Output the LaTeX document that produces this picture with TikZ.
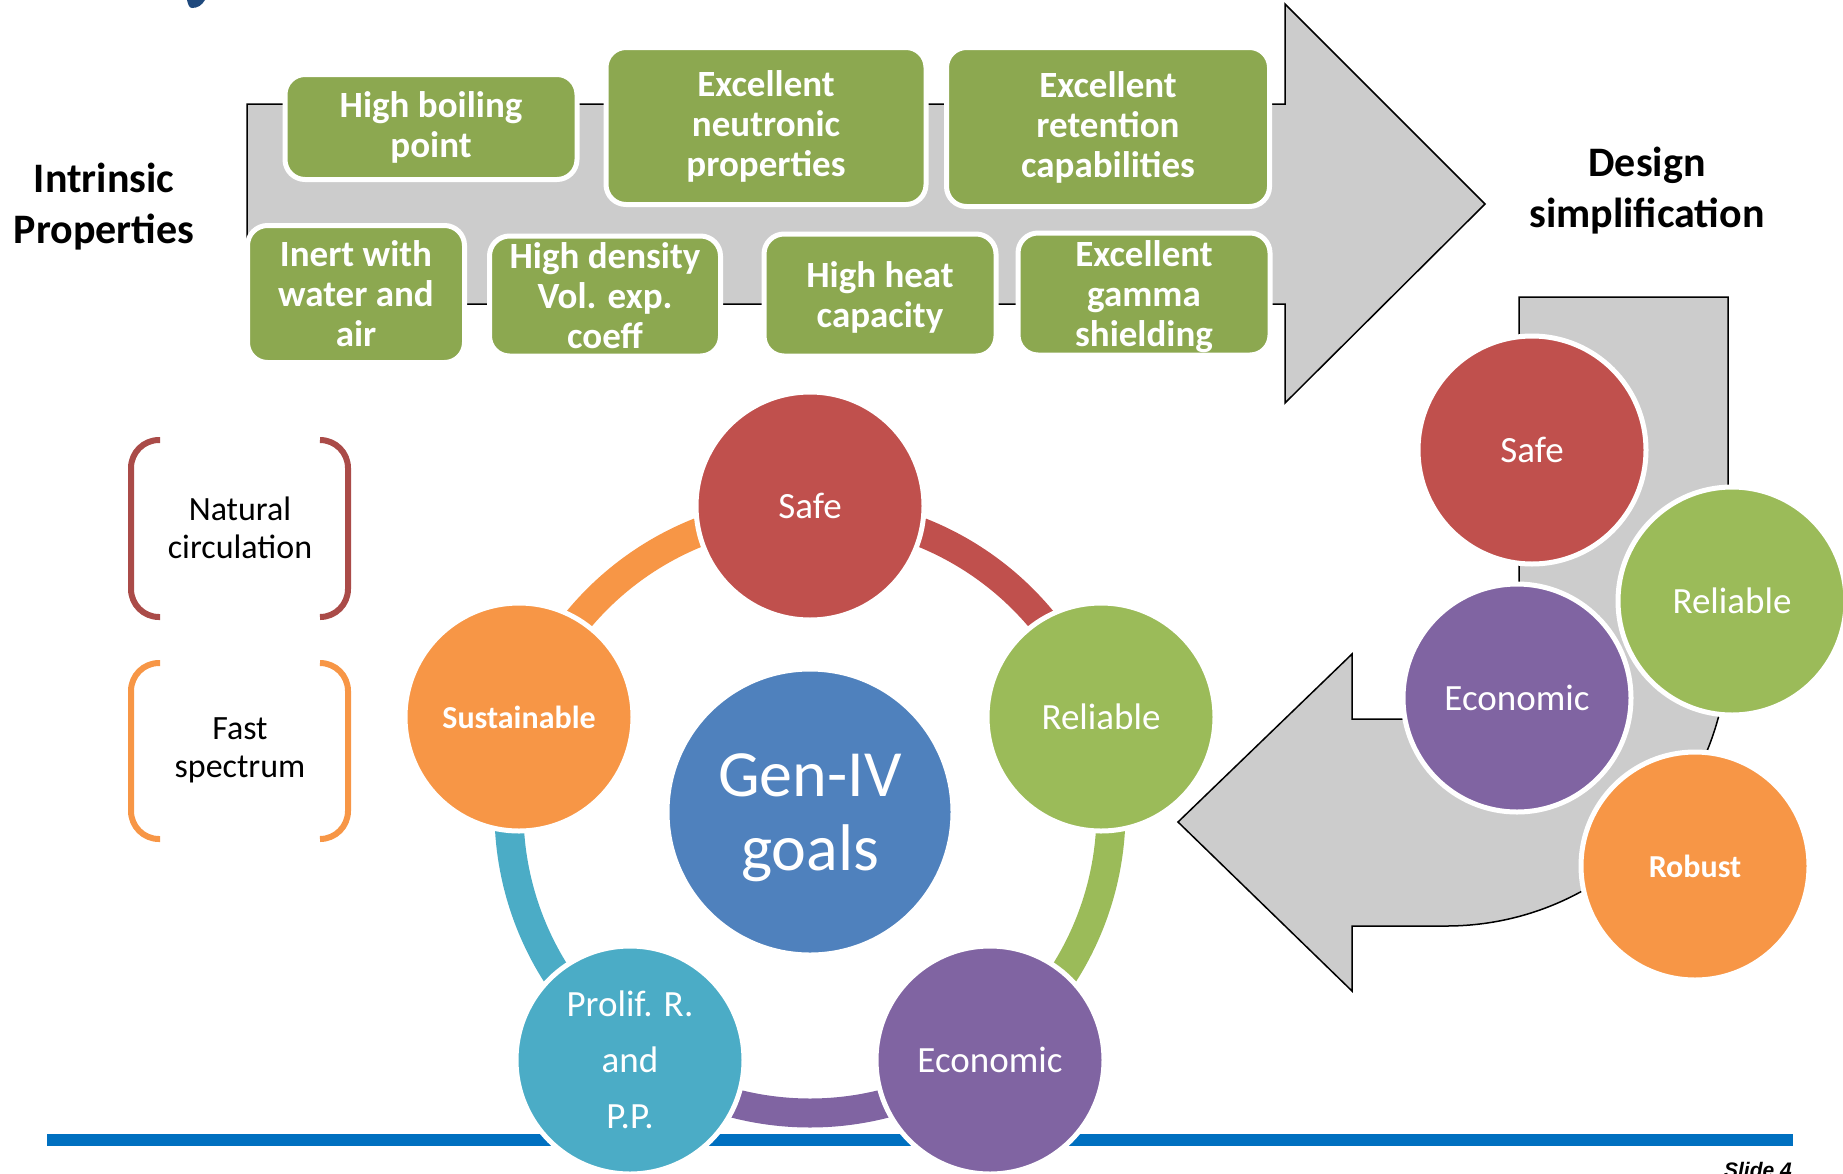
\documentclass[tikz,border=0pt]{standalone}
\usepackage{fontspec}
\setmainfont{Carlito}
\newfontfamily\slidefont{Liberation Sans}
\usepackage{tikz}
\usetikzlibrary{positioning}
\usetikzlibrary{shapes,arrows}
\definecolor{propgreen}{RGB}{140,168,80}
\definecolor{arrowgray}{RGB}{204,204,204}
\definecolor{safered}{RGB}{192,80,77}
\definecolor{relgreen}{RGB}{155,187,89}
\definecolor{ecopurple}{RGB}{128,100,162}
\definecolor{proteal}{RGB}{75,172,198}
\definecolor{susorange}{RGB}{247,150,70}
\definecolor{genblue}{RGB}{79,129,189}
\definecolor{natred}{RGB}{170,75,72}
\definecolor{slideblue}{RGB}{0,112,192}
\definecolor{titleblue}{RGB}{31,73,125}
\tikzstyle{prop} = [rectangle, draw=white, line width=5pt, fill=propgreen, text=white,
    align=center, rounded corners=20pt, inner sep=0pt, font=\bfseries\fontsize{37}{40}\selectfont]
\tikzstyle{goal} = [circle, draw=white, line width=5pt, minimum size=228pt, inner sep=0pt,
    text=white, align=center, font=\fontsize{37}{45}\selectfont]
\tikzstyle{bigarrow} = [draw=black, line width=1.5pt, fill=arrowgray]
\tikzstyle{heading} = [align=center, font=\bfseries\fontsize{42}{51}\selectfont]
\tikzstyle{feature} = [align=center, font=\fontsize{34}{38}\selectfont]
\tikzstyle{bracket} = [line width=6pt, rounded corners=28pt]
\tikzstyle{ring} = [line width=29pt]

\begin{document}
\begin{tikzpicture}[x=1pt, y=1pt, yscale=-1]
\useasboundingbox (0,0) rectangle (1843,1173);

\fill[titleblue] (187,0) -- (205,0) .. controls (202,5) and (198,8) .. (192,8) .. controls (189,8) and (188,4) .. (187,0) -- cycle;

\draw[bigarrow] (247,104) -- (1285,104) -- (1285,4) -- (1485,204) -- (1285,403) -- (1285,304) -- (247,304) -- cycle;

\node (boiling) [prop, minimum width=292pt, minimum height=105pt] at (431,127) {High boiling\\point};
\node (neutronic) [prop, minimum width=320pt, minimum height=157pt] at (766,126) {Excellent\\neutronic\\properties};
\node (retention) [prop, minimum width=323pt, minimum height=159pt] at (1108,127) {Excellent\\retention\\capabilities};
\node (inert) [prop, minimum width=217pt, minimum height=137pt] at (356,294) {Inert with\\water and\\air};
\node (density) [prop, minimum width=231pt, minimum height=120pt] at (605,296) {High density\\Vol. exp.\\coeff};
\node (heat) [prop, minimum width=232pt, minimum height=122pt, text depth=0pt] at (880,295) {High heat\\capacity};
\node (gamma) [prop, minimum width=252pt, minimum height=122pt, text depth=0pt] at (1144,294) {Excellent\\gamma\\shielding};

\node (intrinsic) [heading] at (104,207) {Intrinsic\\Properties};
\node (design) [heading] at (1647,191) {Design\\simplification};

\draw[bigarrow] (1519,297) -- (1728,297) -- (1728,644) arc (0:90:282) -- (1352,926) -- (1352,991) -- (1178,822)
    -- (1352,654) -- (1352,719) -- (1459,719) arc (90:0:60) -- cycle;

\node (rsafe) [goal, fill=safered] at (1532,450) {Safe};
\node (rreliable) [goal, fill=relgreen] at (1732,601) {Reliable};
\node (reconomic) [goal, fill=ecopurple] at (1517,698) {Economic};
\node (robust) [goal, fill=susorange, font=\bfseries\fontsize{32}{38}\selectfont] at (1695,866) {Robust};

\node (natcirc) [feature] at (240,528) {Natural\\circulation};
\draw[bracket, natred] (160,440) -| (131,617) -- (160,617);
\draw[bracket, natred] (320,440) -| (348,617) -- (320,617);
\node (fastspec) [feature] at (240,750) {Fast\\spectrum};
\draw[bracket, susorange] (160,663) -| (131,839) -- (160,839);
\draw[bracket, susorange] (320,663) -| (348,839) -- (320,839);

\draw[slideblue, line width=12pt] (47,1140) -- (1793,1140);

\node (goals) [goal, fill=genblue, minimum size=286pt, text depth=0pt, font=\fontsize{66}{74}\selectfont] at (810,812) {Gen-IV\\goals};
\draw[ring, safered] (goals.center) ++(270:301) arc (270:342:301);
\draw[ring, relgreen] (goals.center) ++(342:301) arc (342:414:301);
\draw[ring, ecopurple] (goals.center) ++(54:301) arc (54:126:301);
\draw[ring, proteal] (goals.center) ++(126:301) arc (126:198:301);
\draw[ring, susorange] (goals.center) ++(198:301) arc (198:270:301);

\node (safe) [goal, fill=safered] at (810,506) {Safe};
\node (reliable) [goal, fill=relgreen] at (1101,717) {Reliable};
\node (economic) [goal, fill=ecopurple] at (990,1060) {Economic};
\node (prolif) [goal, fill=proteal, font=\fontsize{37}{56}\selectfont] at (630,1060) {Prolif. R.\\and\\P.P.};
\node (sustain) [goal, fill=susorange, font=\bfseries\fontsize{32}{38}\selectfont] at (519,717) {Sustainable};

\node (slide) [anchor=north east, inner sep=0pt, font=\slidefont\bfseries\itshape\fontsize{21}{25}\selectfont] at (1792,1162) {Slide 4};
\end{tikzpicture}
\end{document}
